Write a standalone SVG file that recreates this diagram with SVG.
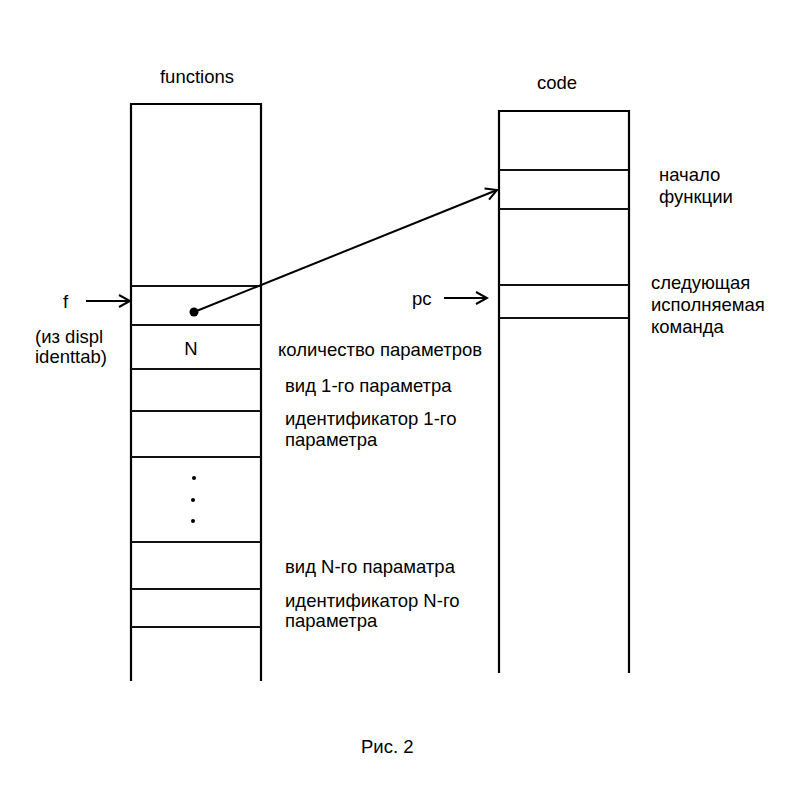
<svg xmlns="http://www.w3.org/2000/svg" width="800" height="800" viewBox="0 0 800 800">
<style>
text{font-family:"Liberation Sans",Arial,sans-serif;font-size:18.5px;fill:#000}
.col{fill:none;stroke:#000;stroke-width:2.2}
.sep{stroke:#111;stroke-width:1.8}
.conn{stroke:#000;stroke-width:2;fill:none}
</style>
<defs>
<marker id="arr" markerWidth="14" markerHeight="14" refX="12" refY="7" orient="auto" markerUnits="userSpaceOnUse">
<path d="M1,1 L12,7 L1,13" fill="none" stroke="#000" stroke-width="2"/>
</marker>
</defs>
<rect width="800" height="800" fill="#fff"/>
<g id="functions">
<text x="197" y="83" text-anchor="middle">functions</text>
<path class="col" d="M131,681 V104 H261 V681"/>
<line class="sep" x1="131" y1="286" x2="261" y2="286"/>
<line class="sep" x1="131" y1="325" x2="261" y2="325"/>
<line class="sep" x1="131" y1="369" x2="261" y2="369"/>
<line class="sep" x1="131" y1="411" x2="261" y2="411"/>
<line class="sep" x1="131" y1="457" x2="261" y2="457"/>
<line class="sep" x1="131" y1="542" x2="261" y2="542"/>
<line class="sep" x1="131" y1="589" x2="261" y2="589"/>
<line class="sep" x1="131" y1="627" x2="261" y2="627"/>
<text x="191" y="355" text-anchor="middle" font-size="15">N</text>
<circle cx="194" cy="478" r="2"/>
<circle cx="193" cy="500" r="2"/>
<circle cx="193" cy="521" r="2"/>
<circle cx="194" cy="312" r="4.5"/>
</g>
<g id="code">
<text x="557" y="89" text-anchor="middle">code</text>
<path class="col" d="M499,673 V111 H629 V673"/>
<line class="sep" x1="499" y1="170" x2="629" y2="170"/>
<line class="sep" x1="499" y1="209" x2="629" y2="209"/>
<line class="sep" x1="499" y1="285" x2="629" y2="285"/>
<line class="sep" x1="499" y1="318" x2="629" y2="318"/>
</g>
<g id="labels">
<text x="63" y="308">f</text>
<text x="35" y="343">(из displ</text>
<text x="35" y="363">identtab)</text>
<text x="412" y="305">pc</text>
<text x="278" y="356">количество параметров</text>
<text x="285" y="392">вид 1-го параметра</text>
<text x="285" y="425">идентификатор 1-го</text>
<text x="285" y="446">параметра</text>
<text x="285" y="573">вид N-го параматра</text>
<text x="285" y="607">идентификатор N-го</text>
<text x="285" y="627">параметра</text>
<text x="659" y="181">начало</text>
<text x="659" y="203">функции</text>
<text x="651" y="289">следующая</text>
<text x="651" y="311">исполняемая</text>
<text x="651" y="333">команда</text>
<text x="361" y="753" font-size="21">Рис. 2</text>
</g>
<g id="connectors">
<line class="conn" x1="86" y1="301" x2="130" y2="301" marker-end="url(#arr)"/>
<line class="conn" x1="444" y1="298" x2="487" y2="298" marker-end="url(#arr)"/>
<line class="conn" x1="194" y1="312" x2="497" y2="190" marker-end="url(#arr)"/>
</g>
</svg>
